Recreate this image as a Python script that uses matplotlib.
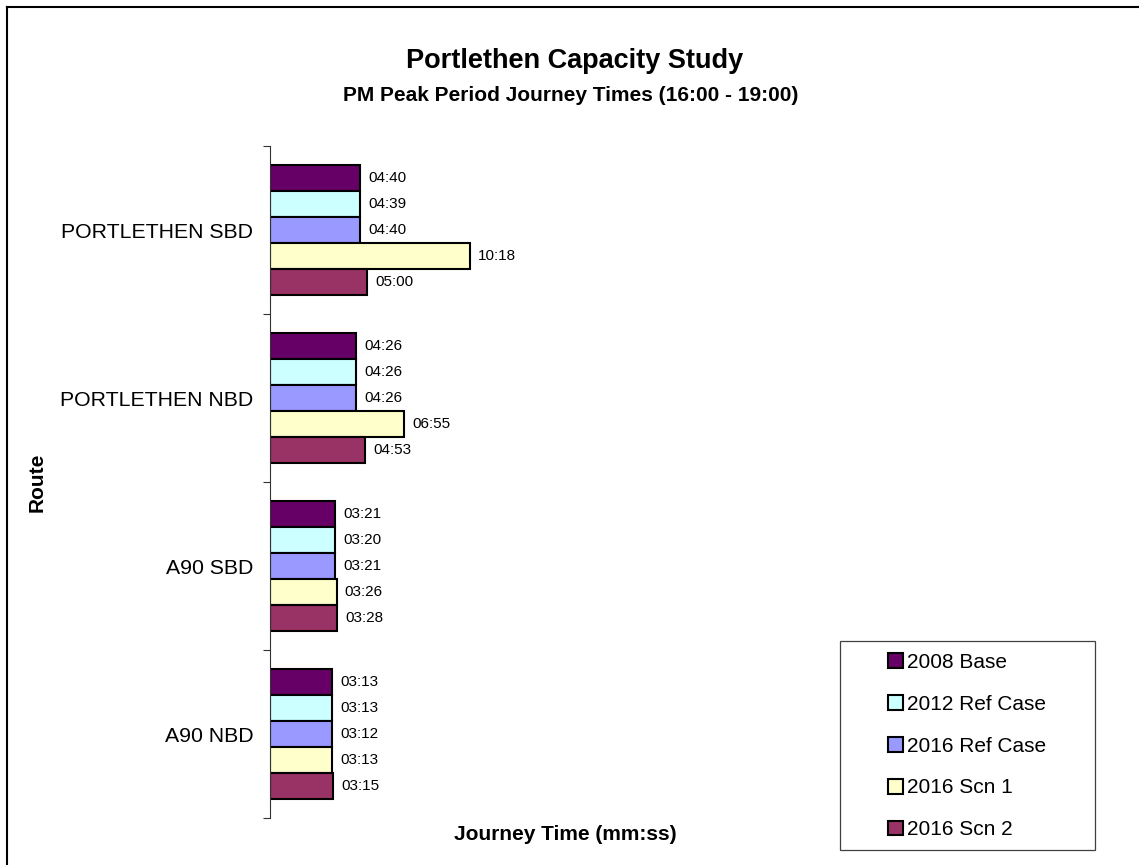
import matplotlib
matplotlib.use("Agg")
import matplotlib.pyplot as plt
from matplotlib.patches import Patch, Rectangle
from matplotlib.lines import Line2D

plt.rcParams["font.family"] = ["Liberation Sans", "DejaVu Sans"]

# ---- data (mm:ss) ----
routes = ["PORTLETHEN SBD", "PORTLETHEN NBD", "A90 SBD", "A90 NBD"]
series_names = ["2008 Base", "2012 Ref Case", "2016 Ref Case", "2016 Scn 1", "2016 Scn 2"]
base_2008 = ["04:40", "04:26", "03:21", "03:13"]
ref_2012 = ["04:39", "04:26", "03:20", "03:13"]
ref_2016 = ["04:40", "04:26", "03:21", "03:12"]
scn1_2016 = ["10:18", "06:55", "03:26", "03:13"]
scn2_2016 = ["05:00", "04:53", "03:28", "03:15"]
colours = ["#660066", "#CCFFFF", "#9999FF", "#FFFFCC", "#993366"]


def to_seconds(t):
    m, s = t.split(":")
    return int(m) * 60 + int(s)


W, H = 1139, 865
fig = plt.figure(figsize=(W / 100, H / 100), dpi=100)

# plot area in pixels: x 270..1100, y 146..818
ax = fig.add_axes([270 / W, 1 - 818 / H, 830 / W, 672 / H])
ax.set_xlim(0, 830 / 0.323)
ax.set_ylim(len(routes) - 0.5, -0.5)

bar_h = 0.155
all_series = [base_2008, ref_2012, ref_2016, scn1_2016, scn2_2016]
for i, (name, vals, col) in enumerate(zip(series_names, all_series, colours)):
    secs = [to_seconds(v) for v in vals]
    ys = [k + (i - 2) * bar_h for k in range(len(routes))]
    ax.barh(ys, secs, height=bar_h, color=col, edgecolor="black", linewidth=1.5)
    for y, s, txt in zip(ys, secs, vals):
        ax.annotate(txt, (s, y), xytext=(6, 0), textcoords="offset points",
                    va="center", ha="left", fontsize=11)

# category axis: labels at centres, ticks at boundaries
ax.set_yticks(range(len(routes)))
ax.set_yticklabels(routes, fontsize=15.3)
ax.tick_params(axis="y", which="major", length=0, pad=12)
ax.set_yticks([k - 0.5 for k in range(len(routes) + 1)], minor=True)
ax.tick_params(axis="y", which="minor", length=5, width=0.8, color="#333333")
ax.set_xticks([])
for side in ["top", "right", "bottom"]:
    ax.spines[side].set_visible(False)
ax.spines["left"].set_color("#333333")
ax.spines["left"].set_linewidth(0.8)

# titles and axis labels
fig.text(575 / W, 1 - 68 / H, "Portlethen Capacity Study", ha="center", va="baseline",
         fontsize=19.5, fontweight="bold")
fig.text(571 / W, 1 - 101 / H, "PM Peak Period Journey Times (16:00 - 19:00)",
         ha="center", va="baseline", fontsize=15, fontweight="bold")
fig.text(565 / W, 1 - 840 / H, "Journey Time (mm:ss)", ha="center", va="baseline",
         fontsize=15, fontweight="bold")
fig.text(47 / W, 1 - 482 / H, "Route", rotation=90, ha="right", va="center",
         fontsize=15, fontweight="bold")

# legend
handles = [Patch(facecolor=c, edgecolor="black", linewidth=1.5) for c in colours]
fig.legend(handles, series_names, loc="center left",
           bbox_to_anchor=(888 / W, 1 - 746 / H), bbox_transform=fig.transFigure,
           frameon=False, fontsize=15, handlelength=0.72, handleheight=0.72,
           handletextpad=0.2, labelspacing=1.1, borderpad=0, borderaxespad=0)
fig.patches.append(Rectangle((840 / W, 1 - 850 / H), 255 / W, 209 / H,
                             transform=fig.transFigure, fill=False,
                             edgecolor="#404040", linewidth=0.9))

# outer chart frame (left and top edges visible)
fig.lines.append(Line2D([7 / W, 7 / W], [0, 1 - 7 / H], transform=fig.transFigure,
                        color="black", linewidth=1.5))
fig.lines.append(Line2D([7 / W, 1], [1 - 7 / H, 1 - 7 / H], transform=fig.transFigure,
                        color="black", linewidth=1.5))

fig.savefig("out.png", dpi=100)
